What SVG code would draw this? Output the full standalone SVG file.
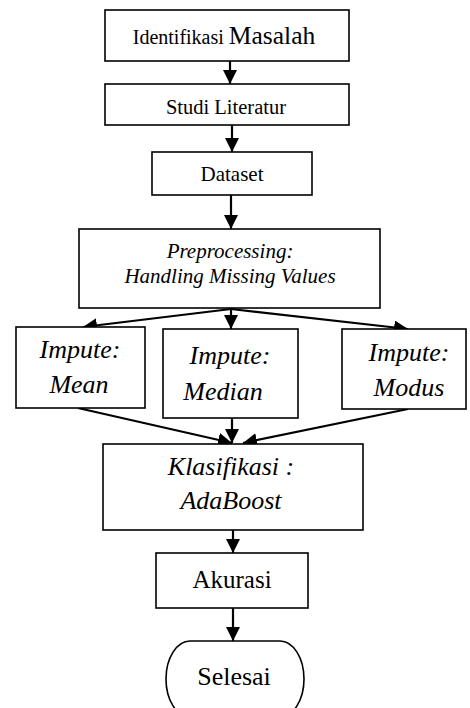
<svg xmlns="http://www.w3.org/2000/svg" width="470" height="708" viewBox="0 0 470 708">
<style>
.box{fill:#fff;stroke:#000;stroke-width:1.6}
.t{font-family:"Liberation Serif","Times New Roman",serif;fill:#000;text-anchor:middle}
.i{font-style:italic}
.c{fill:none;stroke:#000;stroke-width:2.2}
</style>
<defs>
<marker id="ah" markerUnits="userSpaceOnUse" markerWidth="15" markerHeight="14" refX="14" refY="7" orient="auto">
<path d="M0,0 L14,7 L0,14 Z" fill="#000"/>
</marker>
</defs>
<rect width="470" height="708" fill="#fff"/>
<g id="connectors">
<line class="c" x1="230" y1="61" x2="230" y2="84" marker-end="url(#ah)"/>
<line class="c" x1="232" y1="125" x2="232" y2="152" marker-end="url(#ah)"/>
<line class="c" x1="231" y1="195" x2="231" y2="229" marker-end="url(#ah)"/>
<line class="c" x1="231" y1="309" x2="83" y2="327" marker-end="url(#ah)"/>
<line class="c" x1="231" y1="309" x2="231" y2="329" marker-end="url(#ah)"/>
<line class="c" x1="231" y1="309" x2="408" y2="329" marker-end="url(#ah)"/>
<line class="c" x1="78" y1="408" x2="232" y2="443" marker-end="url(#ah)"/>
<line class="c" x1="232" y1="418" x2="232" y2="443" marker-end="url(#ah)"/>
<line class="c" x1="408" y1="409" x2="243" y2="443" marker-end="url(#ah)"/>
<line class="c" x1="233" y1="530" x2="233" y2="553" marker-end="url(#ah)"/>
<line class="c" x1="233" y1="608" x2="233" y2="641" marker-end="url(#ah)"/>
</g>
<g id="identifikasi">
<rect class="box" x="105" y="10" width="244" height="51"/>
<text class="t" x="224" y="44"><tspan font-size="20">Identifikasi </tspan><tspan font-size="25.5">Masalah</tspan></text>
</g>
<g id="studi">
<rect class="box" x="105" y="84" width="244" height="41"/>
<text class="t" x="226" y="114" font-size="20.5">Studi Literatur</text>
</g>
<g id="dataset">
<rect class="box" x="152" y="152" width="160" height="43"/>
<text class="t" x="232" y="181" font-size="21">Dataset</text>
</g>
<g id="preprocessing">
<rect class="box" x="79" y="229" width="301" height="79"/>
<text class="t i" x="230" y="258" font-size="21">Preprocessing:</text>
<text class="t i" x="230" y="283" font-size="21">Handling Missing Values</text>
</g>
<g id="mean">
<rect class="box" x="16" y="327" width="129" height="81"/>
<text class="t i" x="80" y="358" font-size="26">Impute:</text>
<text class="t i" x="79" y="393" font-size="26">Mean</text>
</g>
<g id="median">
<rect class="box" x="163" y="329" width="135" height="89"/>
<text class="t i" x="230" y="364" font-size="26">Impute:</text>
<text class="t i" x="223" y="400" font-size="26">Median</text>
</g>
<g id="modus">
<rect class="box" x="342" y="329" width="124" height="80"/>
<text class="t i" x="409" y="361" font-size="26">Impute:</text>
<text class="t i" x="409" y="396" font-size="26">Modus</text>
</g>
<g id="klasifikasi">
<rect class="box" x="103" y="444" width="260" height="86"/>
<text class="t i" x="231" y="475" font-size="26">Klasifikasi :</text>
<text class="t i" x="231" y="509" font-size="26">AdaBoost</text>
</g>
<g id="akurasi">
<rect class="box" x="156" y="553" width="152" height="55"/>
<text class="t" x="232" y="588" font-size="25">Akurasi</text>
</g>
<g id="selesai">
<rect class="box" x="166" y="641" width="138" height="76" rx="24" ry="38"/>
<text class="t" x="234" y="685" font-size="26">Selesai</text>
</g>
</svg>
